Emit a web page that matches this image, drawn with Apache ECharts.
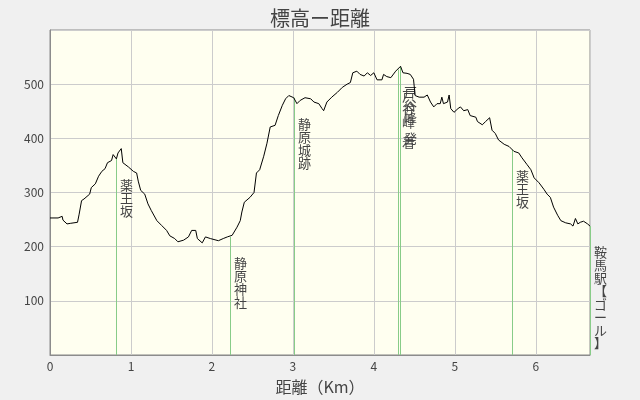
<!DOCTYPE html>
<html>
<head>
<meta charset="utf-8">
<script src="https://cdn.jsdelivr.net/npm/echarts@6/dist/echarts.min.js"></script>
<style>
  html, body { margin: 0; padding: 0; background: #f0f0f0; }
  #chart { width: 640px; height: 400px; }
</style>
</head>
<body>
<div id="chart"></div>
<script>
// 距離(km) と 標高(m)
const distKm = [0.00, 0.10, 0.11, 0.15, 0.16, 0.21, 0.25, 0.34, 0.36, 0.39, 0.42, 0.49, 0.51, 0.56, 0.60, 0.64, 0.68, 0.71, 0.76, 0.78,
  0.82, 0.84, 0.88, 0.90, 0.97, 1.03, 1.07, 1.09, 1.12, 1.17, 1.21, 1.25, 1.32, 1.38, 1.44, 1.48, 1.54, 1.58, 1.65, 1.71,
  1.75, 1.80, 1.82, 1.88, 1.92, 1.98, 2.08, 2.14, 2.19, 2.25, 2.31, 2.35, 2.37, 2.40, 2.47, 2.52, 2.55, 2.59, 2.64, 2.68,
  2.72, 2.78, 2.82, 2.87, 2.91, 2.95, 3.01, 3.05, 3.09, 3.15, 3.22, 3.26, 3.32, 3.34, 3.36, 3.38, 3.42, 3.48, 3.55, 3.61,
  3.67, 3.71, 3.74, 3.79, 3.83, 3.88, 3.92, 3.96, 4.00, 4.04, 4.10, 4.12, 4.16, 4.21, 4.27, 4.33, 4.36, 4.41, 4.45, 4.49,
  4.51, 4.56, 4.62, 4.66, 4.70, 4.74, 4.78, 4.82, 4.84, 4.86, 4.91, 4.93, 4.95, 4.99, 5.04, 5.07, 5.11, 5.16, 5.19, 5.26,
  5.28, 5.34, 5.38, 5.43, 5.46, 5.50, 5.54, 5.61, 5.67, 5.73, 5.79, 5.83, 5.89, 5.94, 5.98, 6.04, 6.10, 6.14, 6.18, 6.20,
  6.22, 6.27, 6.31, 6.37, 6.43, 6.46, 6.49, 6.52, 6.55, 6.59, 6.64, 6.67];
const elevM = [253, 253, 256, 256, 249, 242, 243, 245, 260, 285, 288, 297, 309, 316, 330, 339, 344, 355, 359, 370,
  362, 373, 381, 355, 347, 339, 336, 321, 304, 297, 279, 267, 248, 239, 230, 220, 215, 209, 212, 218,
  230, 230, 215, 207, 218, 215, 211, 215, 218, 221, 236, 248, 264, 282, 291, 300, 336, 342, 367, 391,
  421, 424, 442, 461, 473, 479, 475, 464, 470, 475, 473, 467, 464, 467, 455, 451, 467, 476, 485, 494,
  500, 503, 521, 524, 518, 515, 521, 516, 521, 508, 508, 518, 514, 512, 524, 533, 521, 520, 518, 509,
  479, 476, 476, 480, 467, 458, 464, 464, 476, 464, 467, 480, 455, 448, 455, 458, 451, 453, 442, 439,
  431, 425, 431, 438, 415, 409, 397, 389, 385, 376, 373, 364, 352, 342, 327, 318, 306, 297, 291, 294,
  273, 258, 248, 244, 242, 238, 252, 242, 245, 247, 242, 238];

// 地点
const markerNames = ['薬王坂', '静原神社', '静原城跡', '戸谷峰 着', '戸谷峰 発', '薬王坂', '鞍馬駅【ゴール】'];
const markerKm = [0.81, 2.22, 3.02, 4.30, 4.32, 5.71, 6.67];
const markerElev = [362, 218, 475, 527, 533, 379, 238];

const xTicks = [0, 1, 2, 3, 4, 5, 6];
const yTicks = [100, 200, 300, 400, 500];

const myChart = echarts.init(document.getElementById('chart'));
const font = '"Noto Sans CJK JP", sans-serif';

// 縦書き用（空白は半行分）
function verticalText(name) {
  return name.split('').map(c => c === ' ' ? '{s| }' : c).join('\n');
}

const option = {
  backgroundColor: '#f0f0f0',
  animation: false,
  title: {
    text: '標高ー距離',
    left: 'center',
    top: 3,
    textStyle: { fontFamily: font, fontSize: 20, fontWeight: 'normal', color: '#444' }
  },
  grid: {
    left: 50, right: 50, top: 30, bottom: 40,
    show: true,
    backgroundColor: '#fffff0',
    borderColor: '#8c8c8c',
    borderWidth: 1
  },
  xAxis: {
    type: 'value',
    min: 0,
    max: 6.67,
    interval: 1,
    name: '距離（Km）',
    nameLocation: 'middle',
    nameGap: 24,
    nameTextStyle: { fontFamily: font, fontSize: 16, color: '#444' },
    axisLine: { show: true, lineStyle: { color: '#8c8c8c' } },
    axisTick: { show: false },
    axisLabel: {
      fontFamily: font, fontSize: 12, color: '#444', margin: 5,
      showMaxLabel: false,
      formatter: v => xTicks.includes(v) ? String(v) : ''
    },
    splitLine: { show: true, lineStyle: { color: '#cccccc' } }
  },
  yAxis: {
    type: 'value',
    min: 0,
    max: 600,
    interval: 100,
    axisLine: { show: true, lineStyle: { color: '#8c8c8c' } },
    axisTick: { show: false },
    axisLabel: {
      fontFamily: font, fontSize: 12, color: '#444', margin: 6,
      formatter: v => yTicks.includes(v) ? String(v) : ''
    },
    splitLine: { show: true, lineStyle: { color: '#cccccc' } }
  },
  series: [
    {
      type: 'custom',
      clip: false,
      z: 1,
      data: markerKm.map((k, i) => [k, markerElev[i], i]),
      renderItem: function (params, api) {
        const base = api.coord([api.value(0), 0]);
        const top = api.coord([api.value(0), api.value(1)]);
        const x = Math.round(base[0]) + 0.5;
        const name = markerNames[api.value(2)];
        return {
          type: 'group',
          children: [
            {
              type: 'line',
              shape: { x1: x, y1: base[1], x2: x, y2: top[1] },
              style: { stroke: '#88cc88', lineWidth: 1 }
            },
            {
              type: 'text',
              x: x + 3.5,
              y: Math.round(top[1]) + 20,
              style: {
                text: verticalText(name),
                fill: '#444',
                font: '13px ' + font,
                lineHeight: 13,
                align: 'left',
                verticalAlign: 'top',
                rich: { s: { fontSize: 6, lineHeight: 7 } }
              }
            }
          ]
        };
      }
    },
    {
      type: 'line',
      z: 3,
      data: distKm.map((d, i) => [d, elevM[i]]),
      showSymbol: false,
      lineStyle: { color: '#000', width: 1 }
    }
  ]
};

myChart.setOption(option);
</script>
</body>
</html>
